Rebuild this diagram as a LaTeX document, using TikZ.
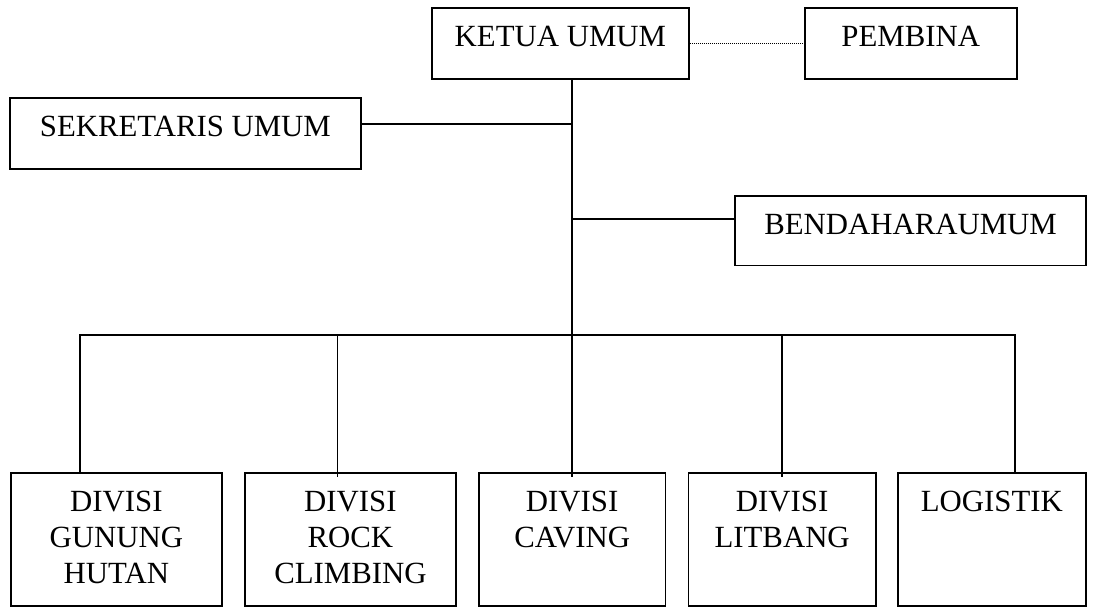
\documentclass[tikz,border=0pt]{standalone}
\usepackage{fontspec}
\newfontfamily\lbf{Liberation Serif}
\begin{document}
\begin{tikzpicture}[x=1pt,y=-1pt,
  box/.style={draw, line width=1.8pt, rectangle, inner sep=0pt, anchor=north west},
  lbl/.style={font=\lbf\fontsize{30.8}{36}\selectfont, align=center, inner sep=0pt, anchor=north},
  link/.style={line width=1.8pt},
  dotlink/.style={line width=1pt, dash pattern=on 1pt off 1pt}]
\useasboundingbox (0,0) rectangle (1100,608);
% top boxes
\node[box, minimum width=257pt, minimum height=70.4pt] (ketua) at (431,7.3) {};
\node[lbl] at ([yshift=-19pt]ketua.north) {KETUA UMUM};
\node[box, minimum width=211.7pt, minimum height=70.4pt] (pembina) at (804,7.3) {};
\node[lbl] at ([yshift=-19pt]pembina.north) {PEMBINA};
\node[box, minimum width=351pt, minimum height=70.4pt] (sekre) at (9,97.3) {};
\node[lbl] at ([yshift=-19pt]sekre.north) {SEKRETARIS UMUM};
\node[box, minimum width=350.7pt, minimum height=69.5pt] (benda) at (734.3,195) {};
\node[lbl] at ([yshift=-19pt]benda.north) {BENDAHARAUMUM};
% bottom boxes
\node[box, minimum width=211pt, minimum height=133pt] (b1) at (10,472) {};
\node[lbl] at ([yshift=-19pt]b1.north) {DIVISI\\GUNUNG\\HUTAN};
\node[box, minimum width=211pt, minimum height=133pt] (b2) at (244,472) {};
\node[lbl] at ([yshift=-19pt]b2.north) {DIVISI\\ROCK\\CLIMBING};
\node[box, minimum width=186.5pt, minimum height=133pt] (b3) at (478,472) {};
\node[lbl] at ([yshift=-19pt]b3.north) {DIVISI\\CAVING};
\node[box, minimum width=187.5pt, minimum height=133pt] (b4) at (687.5,472) {};
\node[lbl] at ([yshift=-19pt]b4.north) {DIVISI\\LITBANG};
\node[box, minimum width=188pt, minimum height=133pt] (b5) at (897,472) {};
\node[lbl] at ([yshift=-19pt]b5.north) {LOGISTIK};
% coordinates
\coordinate (bus) at (571.7,334.7);
\coordinate (busL) at (80,334.7);
\coordinate (busR) at (1015,334.7);
\coordinate (d2) at (337.5,334.7);
\coordinate (d4) at (782,334.7);
\coordinate (s1) at ([yshift=9.5pt]sekre.east);
\coordinate (bd1) at ([yshift=11.5pt]benda.west);
% connectors
\draw[dotlink] (ketua.east) -- (pembina.west);
\draw[link] (ketua.south -| bus) -- (b3.north -| bus) -- ++(0,5);
\draw[link] (s1) -- (s1 -| bus);
\draw[link] (bd1 -| bus) -- (bd1);
\draw[link] (b1.north -| busL) -- (busL) -- (busR) -- (b5.north -| busR);
\draw[link] (d2) -- (b2.north -| d2) -- ++(0,5);
\draw[link] (d4) -- (b4.north -| d4) -- ++(0,5);
\end{tikzpicture}
\end{document}
